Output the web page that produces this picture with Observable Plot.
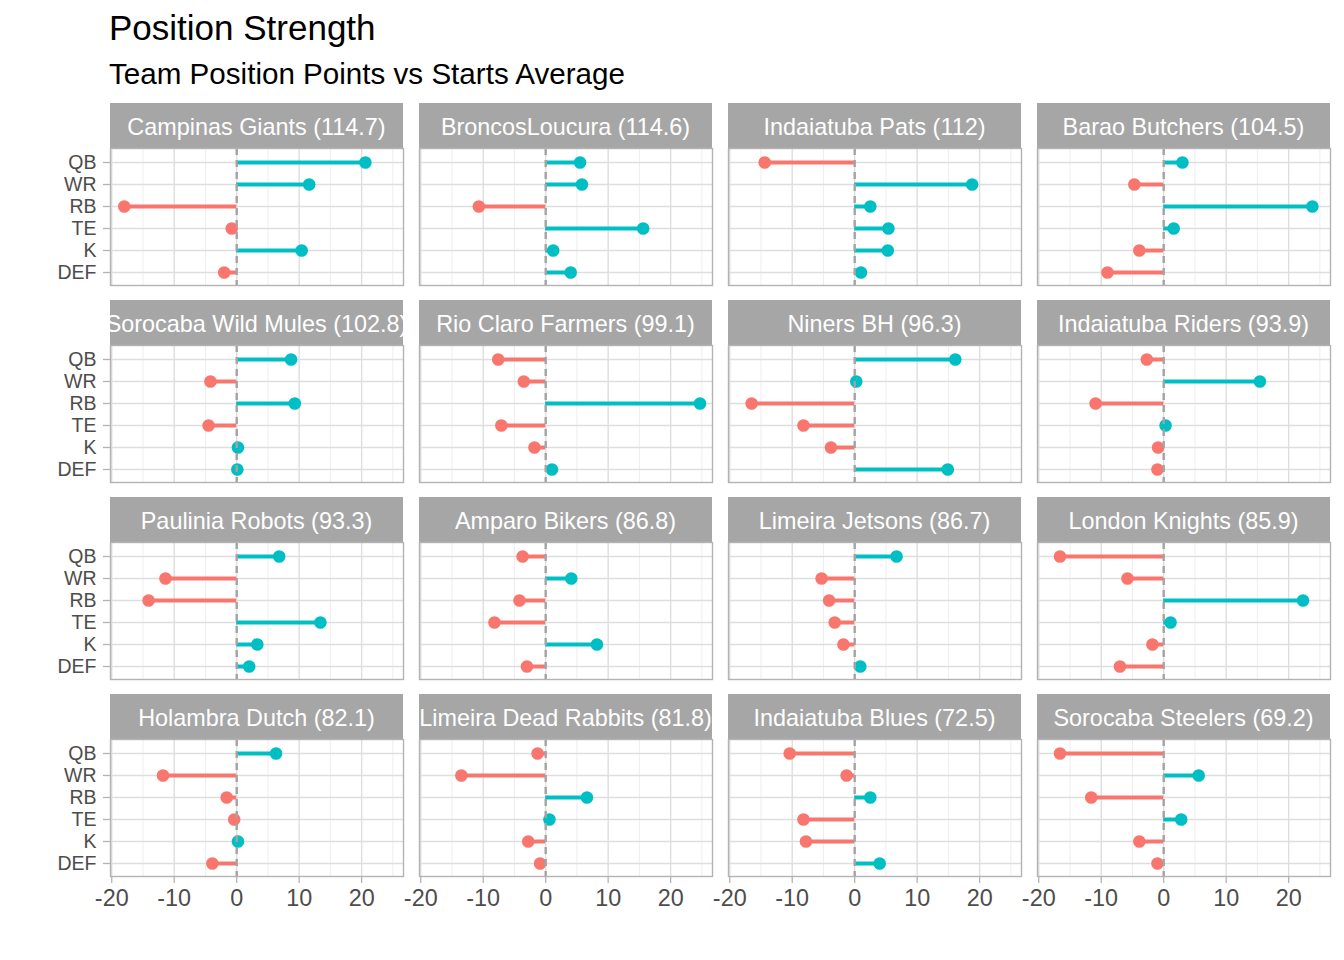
<!DOCTYPE html>
<html>
<head>
<meta charset="utf-8">
<script src="https://cdn.jsdelivr.net/npm/d3@7"></script>
<script src="https://cdn.jsdelivr.net/npm/@observablehq/plot@0.6"></script>
<style>
  html, body { margin: 0; padding: 0; background: #fff; }
  #root { position: relative; width: 1344px; height: 960px; font-family: "Liberation Sans", Arial, sans-serif; overflow: hidden; }
  .title { position: absolute; left: 109px; top: 10px; font-size: 35px; line-height: 35px; color: #000; white-space: nowrap; }
  .subtitle { position: absolute; left: 109px; top: 59px; font-size: 29.6px; line-height: 29.6px; color: #000; white-space: nowrap; }
  .strip { position: absolute; box-sizing: border-box; padding-top: 3px; background: #a6a6a6; color: #fff; font-size: 23.4px; display: flex; align-items: center; justify-content: center; overflow: hidden; }
  .strip span { white-space: nowrap; flex: none; }
  .panel { position: absolute; }
</style>
</head>
<body>
<div id="root">
  <div class="title">Position Strength</div>
  <div class="subtitle">Team Position Points vs Starts Average</div>
</div>
<script>
// ---- data ----
const teams = ["Campinas Giants", "BroncosLoucura", "Indaiatuba Pats", "Barao Butchers",
  "Sorocaba Wild Mules", "Rio Claro Farmers", "Niners BH", "Indaiatuba Riders",
  "Paulinia Robots", "Amparo Bikers", "Limeira Jetsons", "London Knights",
  "Holambra Dutch", "Limeira Dead Rabbits", "Indaiatuba Blues", "Sorocaba Steelers"];
const totals = ["114.7", "114.6", "112", "104.5", "102.8", "99.1", "96.3", "93.9",
  "93.3", "86.8", "86.7", "85.9", "82.1", "81.8", "72.5", "69.2"];
const positions = ["QB", "WR", "RB", "TE", "K", "DEF"];
const qb  = [20.6, 5.5, -14.4, 3.0, 8.7, -7.6, 16.1, -2.7, 6.8, -3.7, 6.7, -16.6, 6.3, -1.3, -10.4, -16.6];
const wr  = [11.6, 5.8, 18.8, -4.7, -4.2, -3.5, 0.25, 15.4, -11.4, 4.1, -5.3, -5.8, -11.8, -13.5, -1.3, 5.6];
const rb  = [-18.0, -10.7, 2.5, 23.8, 9.3, 24.7, -16.5, -10.9, -14.1, -4.2, -4.1, 22.3, -1.6, 6.6, 2.5, -11.6];
const te  = [-0.8, 15.6, 5.4, 1.6, -4.5, -7.1, -8.2, 0.3, 13.4, -8.2, -3.2, 1.1, -0.4, 0.6, -8.2, 2.8];
const kk  = [10.4, 1.2, 5.3, -3.9, 0.2, -1.8, -3.8, -0.9, 3.3, 8.2, -1.8, -1.8, 0.2, -2.8, -7.8, -3.9];
const def = [-2.0, 4.0, 1.0, -9.0, 0.1, 1.0, 14.9, -1.0, 2.0, -3.0, 0.9, -7.0, -3.9, -0.9, 4.0, -1.0];
const xTicks = [-20, -10, 0, 10, 20];
const xMinor = [-15, -5, 5, 15, 25];
const signs = ["neg", "pos"];
const signColors = ["#F8766D", "#00BFC4"];

const series = [qb, wr, rb, te, kk, def];

// ---- layout ----
const colLeft = [110, 419, 728, 1037];
const rowTop = [148, 345, 542, 739];
const panelW = 293, panelH = 137, stripH = 45;
const root = document.getElementById("root");

teams.forEach((team, t) => {
  const r = Math.floor(t / 4), c = t % 4;
  const rows = positions.map((p, j) => ({pos: p, value: series[j][t]}));

  const strip = document.createElement("div");
  strip.className = "strip";
  strip.style.left = colLeft[c] + "px";
  strip.style.top = (rowTop[r] - stripH) + "px";
  strip.style.width = panelW + "px";
  strip.style.height = stripH + "px";
  const sp = document.createElement("span");
  sp.textContent = `${team} (${totals[t]})`;
  strip.appendChild(sp);
  root.appendChild(strip);

  const mL = c === 0 ? 80 : 2, mB = r === 3 ? 44 : 2, mT = 2, mR = 2;
  const marks = [
    Plot.ruleX(xMinor, {stroke: "#ececec", strokeWidth: 0.9}),
    Plot.ruleX(xTicks, {stroke: "#dedede", strokeWidth: 1.4}),
    Plot.ruleY(positions, {stroke: "#dedede", strokeWidth: 1.4}),
    Plot.ruleY(rows, {y: "pos", x1: () => 0, x2: "value", stroke: d => d.value < 0 ? "neg" : "pos", strokeWidth: 4}),
    Plot.dot(rows, {x: "value", y: "pos", fill: d => d.value < 0 ? "neg" : "pos", r: 6.3}),
    Plot.ruleX([0], {stroke: "#a3a3a3", strokeWidth: 2.4, strokeDasharray: "7,5"}),
    Plot.frame({stroke: "#b3b3b3", strokeWidth: 1.4})
  ];
  if (c === 0) marks.push(Plot.axisY({anchor: "left", tickSize: 7, tickPadding: 7, stroke: "#b3b3b3", strokeWidth: 1.3, fill: "#4d4d4d", fontSize: 19.5, label: null}));
  if (r === 3) marks.push(Plot.axisX(xTicks, {anchor: "bottom", tickSize: 7, tickPadding: 6, stroke: "#b3b3b3", strokeWidth: 1.3, fill: "#4d4d4d", fontSize: 23.4, tickFormat: d => String(d), label: null}));

  const svg = Plot.plot({
    width: mL + panelW + mR,
    height: mT + panelH + mB,
    marginLeft: mL, marginRight: mR, marginTop: mT, marginBottom: mB,
    style: {background: "transparent", overflow: "visible", fontFamily: "Liberation Sans, Arial, sans-serif"},
    x: {domain: [-20.2, 26.7], axis: null},
    y: {type: "point", domain: positions, padding: 0.6, axis: null},
    color: {domain: signs, range: signColors},
    marks
  });
  const wrap = document.createElement("div");
  wrap.className = "panel";
  wrap.style.left = (colLeft[c] - mL) + "px";
  wrap.style.top = (rowTop[r] - mT) + "px";
  wrap.appendChild(svg);
  root.appendChild(wrap);
});
</script>
</body>
</html>
